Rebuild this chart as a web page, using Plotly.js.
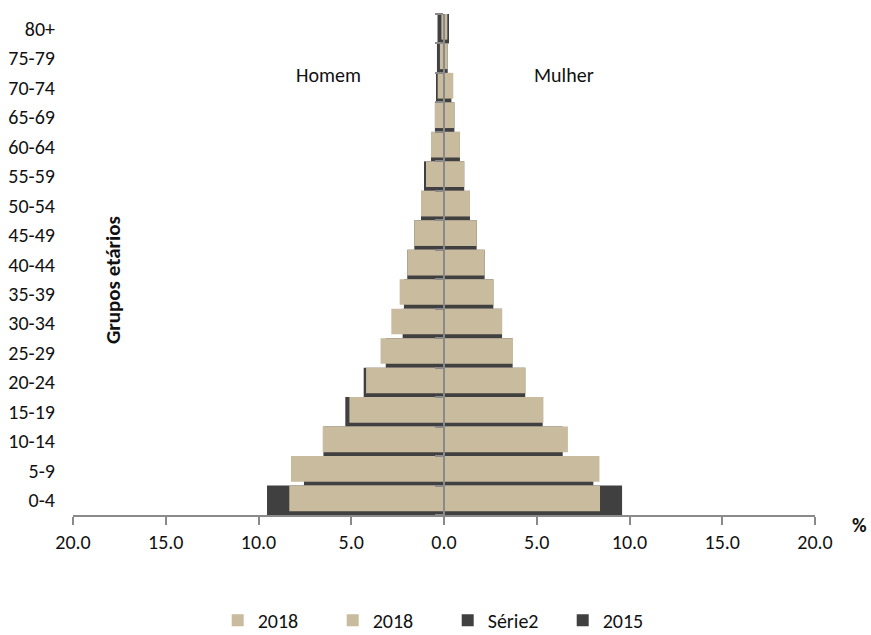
<!DOCTYPE html>
<html>
<head>
<meta charset="utf-8">
<script src="https://cdn.plot.ly/plotly-3.0.1.min.js"></script>
<style>html,body{margin:0;padding:0;background:#fff;}#chart{width:871px;height:635px;}</style>
</head>
<body>
<div id="chart"></div>
<script>
// Age groups (bottom to top)
const ageGroups = ["0-4","5-9","10-14","15-19","20-24","25-29","30-34","35-39","40-44","45-49","50-54","55-59","60-64","65-69","70-74","75-79","80+"];
// Percent of population
const men2018   = [8.34, 8.25, 6.54, 5.10, 4.20, 3.42, 2.84, 2.39, 1.98, 1.60, 1.24, 0.97, 0.70, 0.49, 0.34, 0.22, 0.14];
const women2018 = [8.41, 8.38, 6.68, 5.36, 4.40, 3.72, 3.13, 2.66, 2.19, 1.76, 1.40, 1.09, 0.86, 0.56, 0.50, 0.20, 0.18];
const men2015   = [9.54, 7.55, 6.50, 5.32, 4.33, 3.14, 2.23, 2.16, 1.98, 1.60, 1.24, 1.08, 0.70, 0.49, 0.43, 0.38, 0.35];
const women2015 = [9.60, 8.05, 6.40, 5.32, 4.38, 3.70, 3.13, 2.66, 2.19, 1.76, 1.40, 1.09, 0.86, 0.56, 0.40, 0.20, 0.27];
const xTickVals = [-20, -15, -10, -5, 0, 5, 10, 15, 20];
const xTickText = ["20.0","15.0","10.0","5.0","0.0","5.0","10.0","15.0","20.0"];

const BEIGE = "#C9BB9D";
const DARK = "#404040";
const AXIS = "#8a8a8a";
const FONT = "Carlito, 'Liberation Sans', Arial, sans-serif";
const neg = a => a.map(v => -v);

const traces = [
  {type:"bar", orientation:"h", name:"Série2", y:ageGroups, x:neg(men2015), yaxis:"y",
   marker:{color:DARK}, width:1, offset:-0.5, legendrank:3, hoverinfo:"skip"},
  {type:"bar", orientation:"h", name:"2015", y:ageGroups, x:women2015, yaxis:"y",
   marker:{color:DARK}, width:1, offset:-0.5, legendrank:4, hoverinfo:"skip"},
  {type:"bar", orientation:"h", name:"2018", y:ageGroups, x:neg(men2018), yaxis:"y2",
   marker:{color:BEIGE}, width:0.87, offset:-0.37, legendrank:1, hoverinfo:"skip"},
  {type:"bar", orientation:"h", name:"2018", y:ageGroups, x:women2018, yaxis:"y2",
   marker:{color:BEIGE}, width:0.87, offset:-0.37, legendrank:2, hoverinfo:"skip"}
];

const layout = {
  width:871, height:635,
  margin:{l:73, r:56, t:14, b:120, autoexpand:false},
  paper_bgcolor:"#fff", plot_bgcolor:"#fff",
  font:{family:FONT, size:20, color:"#111"},
  barmode:"overlay",
  showlegend:true,
  legend:{orientation:"h", x:0.505, xanchor:"center", y:-0.249, yanchor:"bottom",
          font:{family:FONT, size:20, color:"#111"}, traceorder:"normal",
          entrywidth:70, entrywidthmode:"pixels"},
  xaxis:{range:[-20,20], tickvals:xTickVals, ticktext:xTickText, automargin:false,
         showline:true, linecolor:AXIS, linewidth:2, ticks:"outside", ticklen:8, tickwidth:2, tickcolor:AXIS,
         showgrid:false, zeroline:false, tickfont:{family:FONT, size:20, color:"#111"}, fixedrange:true},
  yaxis:{type:"category", categoryorder:"array", categoryarray:ageGroups, range:[-0.5,16.5], automargin:false,
         showline:false, showgrid:false, zeroline:false, ticks:"outside", ticklen:13, tickcolor:"rgba(0,0,0,0)",
         tickfont:{family:FONT, size:20, color:"#111"}},
  yaxis2:{type:"category", categoryorder:"array", categoryarray:ageGroups, range:[-0.5,16.5],
          overlaying:"y", anchor:"free", position:0.5, side:"left",
          showline:true, linecolor:AXIS, linewidth:2, ticks:"outside", ticklen:8, tickwidth:2, tickcolor:AXIS,
          tickson:"boundaries", showticklabels:false, showgrid:false, zeroline:false, layer:"above traces"},
  annotations:[
    {text:"Homem", xref:"paper", yref:"paper", x:0.345, y:0.878, xanchor:"center", yanchor:"middle", showarrow:false, font:{family:FONT, size:20, color:"#111"}},
    {text:"Mulher", xref:"paper", yref:"paper", x:0.662, y:0.878, xanchor:"center", yanchor:"middle", showarrow:false, font:{family:FONT, size:20, color:"#111"}},
    {text:"<b>Grupos etários</b>", xref:"paper", yref:"paper", x:0.054, y:0.469, xanchor:"center", yanchor:"middle", textangle:-90, showarrow:false, font:{family:FONT, size:21, color:"#111"}},
    {text:"<b>%</b>", xref:"paper", yref:"paper", x:1.06, y:-0.02, xanchor:"center", yanchor:"middle", showarrow:false, font:{family:FONT, size:20, color:"#111"}}
  ]
};

Plotly.newPlot("chart", traces, layout, {displayModeBar:false, staticPlot:true});
</script>
</body>
</html>
